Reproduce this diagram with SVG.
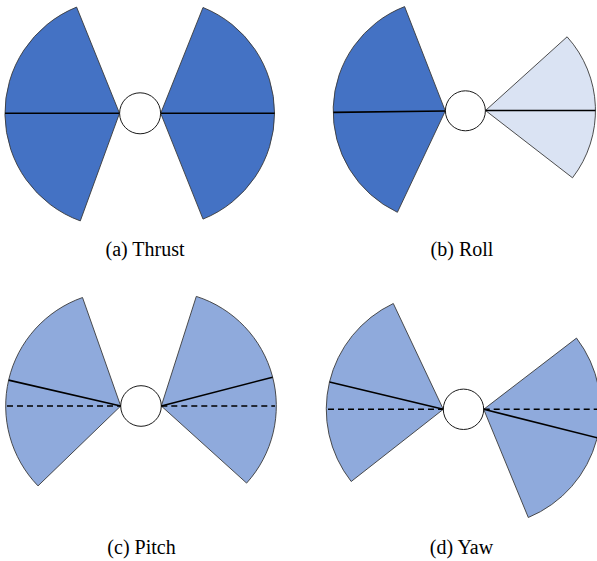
<svg xmlns="http://www.w3.org/2000/svg" width="597" height="561" viewBox="0 0 597 561">
<style>
.dark{fill:#4472C4}
.mid{fill:#8FAADC}
.light{fill:#DAE3F3}
.sec{stroke:#3a3a3a;stroke-width:0.9;stroke-linejoin:round}
.hub{fill:#ffffff;stroke:#1a1a1a;stroke-width:1}
.axis{stroke:#000;stroke-width:1.6;fill:none}
.dash{stroke:#000;stroke-width:1.5;fill:none;stroke-dasharray:6 4}
.lbl{font-family:"Liberation Serif","Times New Roman",serif;font-size:20px;fill:#000;text-anchor:middle}
</style>
<rect width="597" height="561" fill="#ffffff"/>

<g id="thrust">
  <path class="dark sec" d="M119.5,113.3 L76.6,7.1 A114.5,114.5 0 0 0 80.3,220.9 Z"/>
  <path class="dark sec" d="M160.7,113.3 L203.0,7.5 A114,114 0 0 1 203.0,219.1 Z"/>
  <circle class="hub" cx="140.1" cy="113.3" r="20.5"/>
  <text class="lbl" x="145" y="256">(a) Thrust</text>
</g>

<g id="roll">
  <path class="dark sec" d="M445.3,111 L404.6,6.6 A112,112 0 0 0 397.4,212.3 Z"/>
  <path class="light sec" d="M485.5,110.5 L567.1,36.8 A110,110 0 0 1 572.5,177.8 Z"/>
  <circle class="hub" cx="465.4" cy="110.8" r="20"/>
  <text class="lbl" x="462" y="256">(b) Roll</text>
</g>

<g id="pitch">
  <path class="mid sec" d="M120.7,406 L82.5,297.5 A115,115 0 0 0 38.0,485.9 Z"/>
  <path class="mid sec" d="M161.3,406 L196.3,296.4 A115,115 0 0 1 246.6,483.1 Z"/>
  <circle class="hub" cx="141" cy="406" r="20.3"/>
  <text class="lbl" x="141.5" y="554">(c) Pitch</text>
</g>

<g id="yaw">
  <path class="mid sec" d="M443.3,409.3 L393.3,303.5 A117,117 0 0 0 351.2,481.5 Z"/>
  <path class="mid sec" d="M483.7,409.3 L576.5,338.1 A117,117 0 0 1 528.3,517.5 Z"/>
  <circle class="hub" cx="463.5" cy="409.3" r="20.2"/>
  <text class="lbl" x="461.5" y="554">(d) Yaw</text>
</g>

<g id="connectors">
  <line class="axis" x1="5" y1="113.3" x2="119.5" y2="113.3"/>
  <line class="axis" x1="160.7" y1="113.3" x2="274.7" y2="113.3"/>
  <line class="axis" x1="333.3" y1="112.4" x2="445.3" y2="111"/>
  <line class="axis" x1="485.5" y1="110.5" x2="595.5" y2="110.5"/>
  <line class="axis" x1="8.6" y1="380.1" x2="120.7" y2="406"/>
  <line class="dash" x1="7" y1="406" x2="120.7" y2="406"/>
  <line class="axis" x1="161.3" y1="406" x2="272.6" y2="377.2"/>
  <line class="dash" x1="161.3" y1="406" x2="275" y2="406"/>
  <line class="axis" x1="329.5" y1="382.0" x2="443.3" y2="409.3"/>
  <line class="dash" x1="328" y1="409.3" x2="443.3" y2="409.3"/>
  <line class="axis" x1="483.7" y1="409.3" x2="597.2" y2="437.8"/>
  <line class="dash" x1="483.7" y1="409.3" x2="600" y2="409.3"/>
</g>
</svg>
